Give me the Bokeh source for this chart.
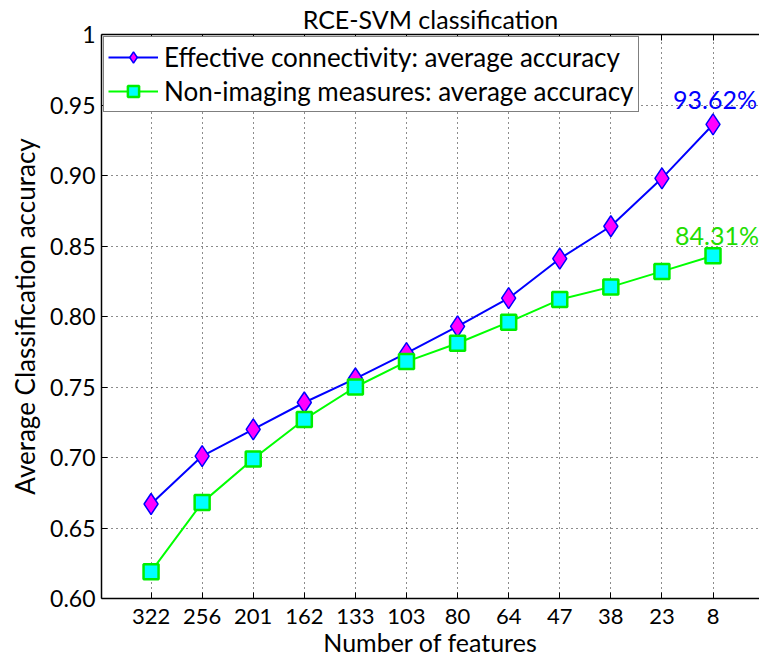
from bokeh.plotting import figure
from bokeh.models import Range1d, FixedTicker, LinearAxis, Legend, LegendItem, Label, NumeralTickFormatter
from bokeh.embed import file_html
from bokeh.resources import INLINE

features = ["322", "256", "201", "162", "133", "103", "80", "64", "47", "38", "23", "8"]
effective = [0.667, 0.701, 0.720, 0.739, 0.756, 0.774, 0.793, 0.813, 0.841, 0.864, 0.898, 0.9362]
nonimaging = [0.619, 0.668, 0.699, 0.727, 0.750, 0.768, 0.781, 0.796, 0.812, 0.821, 0.832, 0.8431]
y_ticks = [0.60, 0.65, 0.70, 0.75, 0.80, 0.85, 0.90, 0.95, 1.0]
xs = list(range(1, len(features) + 1))

FONT = "Lato"

p = figure(width=759, height=659, output_backend="svg", toolbar_location=None,
           x_range=Range1d(0.03, 12.91), y_range=Range1d(0.60, 1.0),
           min_border_left=101, min_border_right=0, min_border_top=33, min_border_bottom=60)

p.title.text = "RCE-SVM classification"
p.title.align = "center"
p.title.text_font = FONT
p.title.text_font_size = "25px"
p.title.text_font_style = "normal"
p.title.text_color = "black"
p.title.standoff = 2

p.outline_line_color = None
p.background_fill_color = "white"

# axes
p.xaxis.ticker = FixedTicker(ticks=xs)
p.xaxis.major_label_overrides = {x: f for x, f in zip(xs, features)}
p.yaxis.ticker = FixedTicker(ticks=y_ticks)
p.yaxis.formatter = NumeralTickFormatter(format="0.00")
p.yaxis.major_label_overrides = {1.0: "1", 1: "1"}
for ax in (p.xaxis[0], p.yaxis[0]):
    ax.major_tick_in = 6
    ax.major_tick_out = 0
    ax.minor_tick_in = 0
    ax.minor_tick_out = 0
    ax.axis_line_color = "black"
    ax.axis_line_width = 1.5
    ax.major_tick_line_color = "black"
    ax.major_label_text_font = FONT
    ax.major_label_text_font_size = "23px"
    ax.major_label_text_color = "black"
    ax.axis_label_text_font = FONT
    ax.axis_label_text_font_size = "26px"
    ax.axis_label_text_font_style = "normal"
    ax.axis_label_text_color = "black"
p.xaxis.major_label_text_font_size = "22px"
p.xaxis.axis_label_text_font_size = "25px"
p.xaxis.axis_label = "Number of features"
p.yaxis.axis_label = "Average Classification accuracy"
p.xaxis.major_label_standoff = 10
p.xaxis.axis_label_standoff = 0
p.yaxis.major_label_standoff = 6
p.yaxis.axis_label_standoff = 6

top = LinearAxis(ticker=FixedTicker(ticks=xs), major_label_text_font_size="0px",
                 major_tick_in=6, major_tick_out=0, minor_tick_in=0, minor_tick_out=0,
                 axis_line_color="black", axis_line_width=1.5)
top.major_label_overrides = {x: "" for x in xs}
p.add_layout(top, "above")

# grid
for g in (p.xgrid[0], p.ygrid[0]):
    g.grid_line_color = "black"
    g.grid_line_dash = "1 4"
    g.grid_line_width = 1
    g.grid_line_alpha = 0.9
p.xgrid.ticker = FixedTicker(ticks=xs)
p.ygrid.ticker = FixedTicker(ticks=y_ticks)

# series
l1 = p.line(xs, effective, line_color="blue", line_width=2)
m1 = p.scatter(xs, effective, marker="diamond", size=21, fill_color="magenta",
               line_color="blue", line_width=1.5)
l2 = p.line(xs, nonimaging, line_color="#00ff00", line_width=2)
m2 = p.scatter(xs, nonimaging, marker="square", size=15, fill_color="cyan",
               line_color="#00ee00", line_width=2.5)

legend = Legend(items=[
    LegendItem(label="Effective connectivity: average accuracy", renderers=[l1, m1]),
    LegendItem(label="Non-imaging measures: average accuracy", renderers=[l2, m2]),
], location="top_left")
legend.label_text_font = FONT
legend.label_text_font_size = "26px"
legend.label_text_color = "black"
legend.border_line_color = "black"
legend.border_line_width = 1.5
legend.background_fill_alpha = 1
legend.glyph_width = 50
legend.glyph_height = 28
legend.label_height = 28
legend.spacing = 2
legend.padding = 4
legend.margin = 2
legend.label_standoff = 6
p.add_layout(legend)

# end annotations
p.add_layout(Label(x=xs[-1], y=effective[-1], text=f"{effective[-1]*100:.2f}%",
                   text_color="blue", text_font=FONT, text_font_size="25px",
                   text_align="center", text_baseline="bottom", y_offset=10, x_offset=2))
p.add_layout(Label(x=xs[-1], y=nonimaging[-1], text=f"{nonimaging[-1]*100:.2f}%",
                   text_color="#22dd00", text_font=FONT, text_font_size="25px",
                   text_align="center", text_baseline="bottom", y_offset=6, x_offset=4))

open("out.html", "w").write(file_html(p, INLINE))
